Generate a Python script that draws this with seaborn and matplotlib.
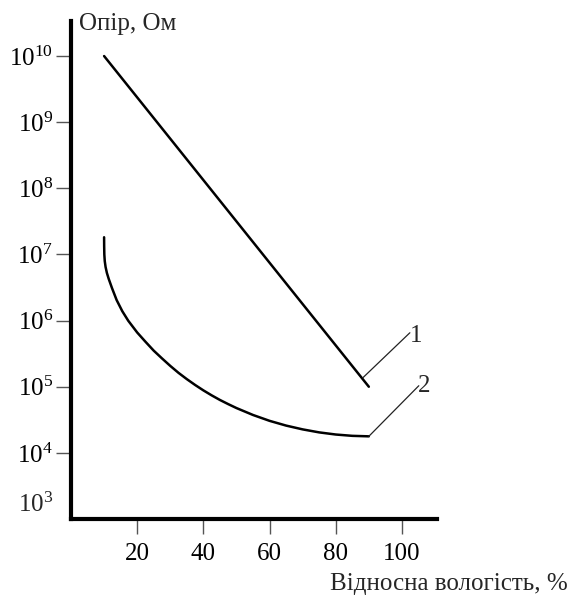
import numpy as np
import pandas as pd
import matplotlib
matplotlib.use("Agg")
import matplotlib.pyplot as plt
import matplotlib.ticker as mticker
import seaborn as sns

# ---- data ----
humidity_1 = [10, 90]
resistance_1 = [1e10, 1e5]

humidity_2 = [10, 10.02, 10.07, 10.2, 10.45, 10.85, 11.4, 12.4, 13.8, 15.5,
              17.3, 20, 22.5, 25, 27.5, 30, 32.5, 35, 37.5, 40, 42.5, 45,
              47.5, 50, 55, 60, 65, 70, 75, 80, 85, 90]
resistance_2 = [1.82e7, 1.35e7, 1.0e7, 7.94e6, 6.46e6, 5.25e6, 4.27e6, 3.09e6,
                2.04e6, 1.387e6, 9.95e5, 6.61e5, 4.79e5, 3.51e5, 2.68e5,
                2.065e5, 1.62e5, 1.303e5, 1.064e5, 8.81e4, 7.41e4, 6.31e4,
                5.46e4, 4.76e4, 3.74e4, 3.05e4, 2.585e4, 2.265e4, 2.04e4,
                1.894e4, 1.809e4, 1.778e4]

x_ticks = [20, 40, 60, 80, 100]
y_tick_exps = [4, 5, 6, 7, 8, 9, 10]
y_extra_exp = 3

curve_labels = ["1", "2"]
label_pos_x = [104.4, 106.8]
label_pos_y = [10**5.77, 10**5.01]
leader_start_x = [88.2, 90.0]
leader_start_y = [10**5.136, 10**4.25]
leader_end_x = [102.4, 105.1]
leader_end_y = [10**5.816, 10**5.015]

x_title = "Відносна вологість, %"
y_title = "Опір, Ом"

# ---- style ----
sns.set_theme(style="white")
plt.rcParams["font.family"] = ["Liberation Serif", "DejaVu Serif"]
plt.rcParams["mathtext.fontset"] = "custom"
plt.rcParams["mathtext.rm"] = "Liberation Serif"
plt.rcParams["mathtext.it"] = "Liberation Serif:italic"
plt.rcParams["mathtext.bf"] = "Liberation Serif:bold"

FS = 18

fig = plt.figure(figsize=(5.73, 5.96), dpi=100)
ax = fig.add_axes([71 / 573, 1 - 519 / 596, (437 - 71) / 573, (519 - 21) / 596])
ax.set_yscale("log")

df1 = pd.DataFrame({"x": humidity_1, "y": resistance_1})
df2 = pd.DataFrame({"x": humidity_2, "y": resistance_2})
sns.lineplot(data=df1, x="x", y="y", ax=ax, color="black", lw=1.8, sort=False)
sns.lineplot(data=df2, x="x", y="y", ax=ax, color="black", lw=1.8, sort=False)

for lab, lx, ly, sx, sy, ex, ey in zip(curve_labels, label_pos_x, label_pos_y,
                                       leader_start_x, leader_start_y,
                                       leader_end_x, leader_end_y):
    ax.plot([sx, ex], [sy, ey], color="#222222", lw=0.9, clip_on=False)
    ax.text(lx, ly, lab, fontsize=FS, ha="center", va="center", clip_on=False)

ax.set_xlim(0, 110.6)
ax.set_ylim(1e3, 10**10.53)

ax.xaxis.set_major_locator(mticker.FixedLocator(x_ticks))
ax.xaxis.set_minor_locator(mticker.NullLocator())
ax.yaxis.set_major_locator(mticker.FixedLocator([10.0**e for e in y_tick_exps]))
ax.yaxis.set_minor_locator(mticker.NullLocator())
ax.yaxis.set_major_formatter(mticker.FixedFormatter(
    [r"$\mathrm{10^{%d}}$" % e for e in y_tick_exps]))

for s in ["top", "right"]:
    ax.spines[s].set_visible(False)
for s in ["left", "bottom"]:
    ax.spines[s].set_color("black")
    ax.spines[s].set_linewidth(3.0)

ax.tick_params(axis="x", direction="out", length=11, width=1.0, color="#555555",
               pad=6, labelsize=FS, labelcolor="black", bottom=True)
ax.tick_params(axis="y", direction="out", length=11, width=1.0, color="#555555",
               pad=2, labelsize=FS, labelcolor="black", left=True)
ax.set_xlabel("")
ax.set_ylabel("")

ax.annotate(r"$\mathrm{10^{%d}}$" % y_extra_exp, xy=(0, 10**3.21),
            xycoords=ax.get_yaxis_transform(), xytext=(-13, 0),
            textcoords="offset points", ha="right", va="center", fontsize=FS)

fig.text(79 / 573, 1 - 30 / 596, y_title, fontsize=FS, ha="left", va="baseline")
fig.text(568 / 573, 1 - 590 / 596, x_title, fontsize=FS, ha="right", va="baseline")

fig.savefig("out.png", dpi=100)
